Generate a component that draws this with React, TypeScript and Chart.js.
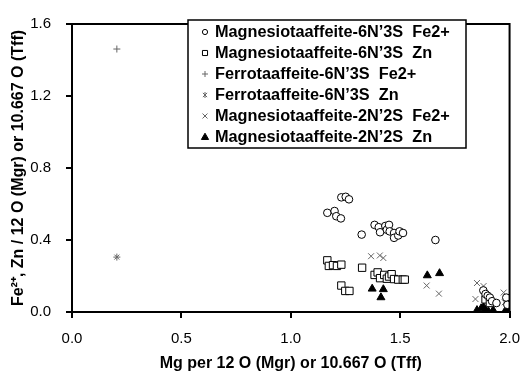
import React, { useEffect, useRef } from 'react';
import { Chart, registerables } from 'chart.js';

Chart.register(...registerables);

// Axis ticks
const xTickValues = [0, 0.5, 1.0, 1.5, 2.0];
const yTickValues = [0, 0.4, 0.8, 1.2, 1.6];

// Series labels
const seriesLabels = [
  'Magnesiotaaffeite-6N’3S  Fe2+',
  'Magnesiotaaffeite-6N’3S  Zn',
  'Ferrotaaffeite-6N’3S  Fe2+',
  'Ferrotaaffeite-6N’3S  Zn',
  'Magnesiotaaffeite-2N’2S  Fe2+',
  'Magnesiotaaffeite-2N’2S  Zn',
];

// Magnesiotaaffeite-6N'3S Fe2+
const mgr6FeX = [1.231, 1.251, 1.266, 1.167, 1.2, 1.208, 1.229, 1.324, 1.383, 1.402, 1.408, 1.432, 1.439, 1.449, 1.452, 1.472, 1.472, 1.491, 1.497, 1.513, 1.661, 1.88, 1.89, 1.9, 1.91, 1.92, 1.94, 1.985, 1.99];
const mgr6FeY = [0.637, 0.64, 0.626, 0.551, 0.561, 0.532, 0.52, 0.43, 0.484, 0.471, 0.443, 0.478, 0.457, 0.484, 0.448, 0.439, 0.412, 0.425, 0.448, 0.439, 0.4, 0.12, 0.1, 0.09, 0.08, 0.06, 0.05, 0.08, 0.04];

// Magnesiotaaffeite-6N'3S Zn
const mgr6ZnX = [1.167, 1.174, 1.193, 1.211, 1.231, 1.326, 1.383, 1.397, 1.408, 1.427, 1.439, 1.449, 1.461, 1.472, 1.491, 1.512, 1.521, 1.231, 1.249, 1.268, 1.89, 1.91];
const mgr6ZnY = [0.287, 0.256, 0.26, 0.256, 0.263, 0.246, 0.206, 0.22, 0.188, 0.206, 0.185, 0.197, 0.21, 0.183, 0.18, 0.18, 0.18, 0.147, 0.117, 0.117, 0.07, 0.05];

// Ferrotaaffeite-6N'3S Fe2+
const tff6FeX = [0.205];
const tff6FeY = [1.461];

// Ferrotaaffeite-6N'3S Zn
const tff6ZnX = [0.205];
const tff6ZnY = [0.305];

// Magnesiotaaffeite-2N'2S Fe2+
const mgr2FeX = [1.367, 1.407, 1.423, 1.621, 1.677, 1.851, 1.881, 1.844, 1.888, 1.903, 1.973, 1.978, 1.988, 1.99];
const mgr2FeY = [0.31, 0.314, 0.3, 0.147, 0.102, 0.161, 0.144, 0.072, 0.099, 0.054, 0.108, 0.054, 0.036, 0.08];

// Magnesiotaaffeite-2N'2S Zn
const mgr2ZnX = [1.372, 1.423, 1.412, 1.624, 1.68, 1.851, 1.87, 1.881, 1.89, 1.903, 1.925, 1.982, 1.995];
const mgr2ZnY = [0.129, 0.126, 0.081, 0.203, 0.215, 0.01, 0.02, 0.027, 0.01, 0.004, 0.01, 0.01, 0.02];

const toPoints = (xs: number[], ys: number[]) => xs.map((x, i) => ({ x, y: ys[i] }));

const FONT = "'Liberation Sans', Arial, sans-serif";
const GREY = '#666666';

const styles = [
  { pointStyle: 'circle', radius: 3.8, bg: '#ffffff', border: '#000000', bw: 1, lr: 2.6 },
  { pointStyle: 'rect', radius: 5.2, bg: '#ffffff', border: '#000000', bw: 1, lr: 3.6 },
  { pointStyle: 'cross', radius: 3.5, bg: GREY, border: GREY, bw: 1, lr: 3 },
  { pointStyle: 'star', radius: 3.5, bg: GREY, border: GREY, bw: 1, lr: 3 },
  { pointStyle: 'crossRot', radius: 4.2, bg: GREY, border: GREY, bw: 1, lr: 3.5 },
  { pointStyle: 'triangle', radius: 4.6, bg: '#000000', border: '#000000', bw: 1, lr: 3.8 },
];

function drawMarker(ctx: CanvasRenderingContext2D, style: string, x: number, y: number, r: number, fill: string, stroke: string) {
  ctx.save();
  ctx.beginPath();
  ctx.lineWidth = 1;
  ctx.strokeStyle = stroke;
  ctx.fillStyle = fill;
  switch (style) {
    case 'circle':
      ctx.arc(x, y, r, 0, Math.PI * 2);
      ctx.fill();
      ctx.stroke();
      break;
    case 'rect': {
      const s = r * Math.SQRT1_2;
      ctx.rect(x - s, y - s, 2 * s, 2 * s);
      ctx.fill();
      ctx.stroke();
      break;
    }
    case 'cross':
      ctx.moveTo(x - r, y); ctx.lineTo(x + r, y);
      ctx.moveTo(x, y - r); ctx.lineTo(x, y + r);
      ctx.stroke();
      break;
    case 'star': {
      const d = r * Math.SQRT1_2;
      ctx.moveTo(x, y - r); ctx.lineTo(x, y + r);
      ctx.moveTo(x - d, y - d); ctx.lineTo(x + d, y + d);
      ctx.moveTo(x - d, y + d); ctx.lineTo(x + d, y - d);
      ctx.stroke();
      break;
    }
    case 'crossRot': {
      const d = r * Math.SQRT1_2;
      ctx.moveTo(x - d, y - d); ctx.lineTo(x + d, y + d);
      ctx.moveTo(x - d, y + d); ctx.lineTo(x + d, y - d);
      ctx.stroke();
      break;
    }
    case 'triangle': {
      ctx.moveTo(x, y - r);
      ctx.lineTo(x + r * 0.95, y + r * 0.65);
      ctx.lineTo(x - r * 0.95, y + r * 0.65);
      ctx.closePath();
      ctx.fill();
      ctx.stroke();
      break;
    }
  }
  ctx.restore();
}

const frameAndLegend = {
  id: 'frameAndLegend',
  afterDraw(chart: any) {
    const { ctx, chartArea } = chart;
    ctx.save();
    // plot frame top & right
    ctx.strokeStyle = '#000';
    ctx.lineWidth = 2;
    ctx.beginPath();
    ctx.moveTo(chartArea.left, chartArea.top);
    ctx.lineTo(chartArea.right, chartArea.top);
    ctx.lineTo(chartArea.right, chartArea.bottom);
    ctx.stroke();

    // legend box
    const bx = 188, by = 20, bw = 278, rowH = 21, firstRow = 32;
    const bh = firstRow - by + rowH * (seriesLabels.length - 1) + 11;
    ctx.fillStyle = '#fff';
    ctx.fillRect(bx, by, bw, bh);
    ctx.lineWidth = 1.5;
    ctx.strokeRect(bx, by, bw, bh);
    ctx.font = `bold 16.3px ${FONT}`;
    ctx.textBaseline = 'middle';
    ctx.textAlign = 'left';
    seriesLabels.forEach((lab, i) => {
      const y = firstRow + rowH * i;
      const st = styles[i];
      drawMarker(ctx, st.pointStyle, 205, y, st.lr, st.bg, st.border);
      ctx.fillStyle = '#000';
      ctx.fillText(lab, 215, y + 0.5);
    });
    ctx.restore();
  },
};

export default function App() {
  const ref = useRef<HTMLCanvasElement | null>(null);
  useEffect(() => {
    if (!ref.current) return;
    const series = [
      toPoints(mgr6FeX, mgr6FeY),
      toPoints(mgr6ZnX, mgr6ZnY),
      toPoints(tff6FeX, tff6FeY),
      toPoints(tff6ZnX, tff6ZnY),
      toPoints(mgr2FeX, mgr2FeY),
      toPoints(mgr2ZnX, mgr2ZnY),
    ];
    const chart = new Chart(ref.current, {
      type: 'scatter',
      data: {
        datasets: series.map((d, i) => ({
          label: seriesLabels[i],
          data: d,
          pointStyle: styles[i].pointStyle as any,
          pointRadius: styles[i].radius,
          pointBackgroundColor: styles[i].bg,
          pointBorderColor: styles[i].border,
          pointBorderWidth: styles[i].bw,
          showLine: false,
          order: i === 5 ? 10 : i,
        })),
      },
      options: {
        responsive: false,
        animation: false,
        events: [],
        layout: { padding: { left: 0, top: 14, right: 13, bottom: 0 } },
        plugins: { legend: { display: false }, tooltip: { enabled: false } },
        scales: {
          x: {
            type: 'linear',
            min: 0,
            max: 2,
            afterFit: (s: any) => { s.height = 62; },
            afterBuildTicks: (s: any) => { s.ticks = xTickValues.map((v) => ({ value: v })); },
            ticks: {
              color: '#000',
              font: { family: FONT, size: 15 },
              padding: 12,
              callback: (v: any) => Number(v).toFixed(1),
            },
            grid: { drawOnChartArea: false, drawTicks: true, tickLength: 6, color: '#000', lineWidth: 2 },
            border: { display: true, color: '#000', width: 2 },
            title: {
              display: true,
              text: 'Mg per 12 O (Mgr) or 10.667 O (Tff)',
              color: '#000',
              font: { family: FONT, size: 16, weight: 'bold' },
              padding: { top: 0, bottom: 1 },
            },
          },
          y: {
            type: 'linear',
            min: 0,
            max: 1.6,
            afterFit: (s: any) => { s.width = 72; },
            afterBuildTicks: (s: any) => { s.ticks = yTickValues.map((v) => ({ value: v })); },
            ticks: {
              color: '#000',
              font: { family: FONT, size: 15 },
              padding: 15,
              callback: (v: any) => Number(v).toFixed(1),
            },
            grid: { drawOnChartArea: false, drawTicks: true, tickLength: 6, color: '#000', lineWidth: 2 },
            border: { display: true, color: '#000', width: 2 },
            title: {
              display: true,
              text: 'Fe²⁺, Zn / 12 O (Mgr) or 10.667 O (Tff)',
              color: '#000',
              font: { family: FONT, size: 16, weight: 'bold' },
              padding: { top: 9, bottom: 0 },
            },
          },
        },
      },
      plugins: [frameAndLegend],
    });
    return () => chart.destroy();
  }, []);
  return (
    <div style={{ position: 'absolute', left: 0, top: 0, width: 532, height: 374 }}>
      <canvas ref={ref} width={532} height={374} />
    </div>
  );
}
